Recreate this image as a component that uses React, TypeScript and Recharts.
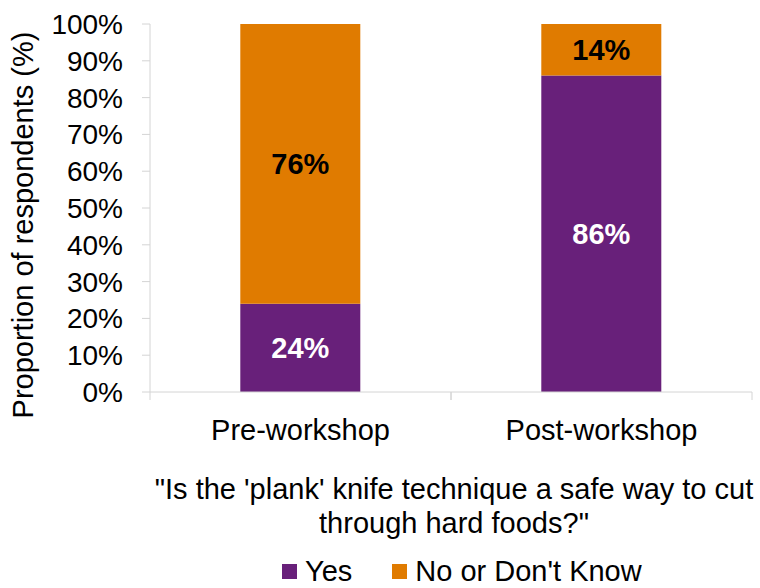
import { BarChart, Bar, XAxis, YAxis, Legend, LabelList } from "recharts";

const categories = ["Pre-workshop", "Post-workshop"];
const yesValues = [24, 86];
const noValues = [76, 14];
const yTicks = [0, 10, 20, 30, 40, 50, 60, 70, 80, 90, 100];

const PURPLE = "#68207A";
const ORANGE = "#E07B00";
const AXIS = "#d4d4d4";
const FONT = "'Liberation Sans', Arial, sans-serif";

const data = categories.map((name, i) => ({ name, yes: yesValues[i], no: noValues[i] }));

// eslint-disable-next-line @typescript-eslint/no-explicit-any
function CategoryTick(props: any) {
  const { x, y, payload } = props;
  const half = payload?.offset ?? 150.5;
  return (
    <g>
      <line x1={x - half} x2={x - half} y1={y} y2={y + 8} stroke={AXIS} />
      <line x1={x + half} x2={x + half} y1={y} y2={y + 8} stroke={AXIS} />
      <text x={x} y={y + 48} textAnchor="middle" fontSize={29} fill="#000" fontFamily={FONT}>
        {payload.value}
      </text>
    </g>
  );
}

// eslint-disable-next-line @typescript-eslint/no-explicit-any
function TitleLabel(props: any) {
  const vb = props.viewBox || { x: 150, y: 392, width: 602 };
  const cx = vb.x + vb.width / 2 + 3;
  return (
    <g fontFamily={FONT} fontSize={29} fill="#000" textAnchor="middle">
      <text x={cx} y={vb.y + 107}>"Is the 'plank' knife technique a safe way to cut</text>
      <text x={cx} y={vb.y + 141}>through hard foods?"</text>
    </g>
  );
}

function YTitle() {
  return (
    <text
      transform="translate(33,225) rotate(-90)"
      textAnchor="middle"
      fontFamily={FONT}
      fontSize={29}
      fill="#000"
    >
      Proportion of respondents (%)
    </text>
  );
}

function LegendBox() {
  const items = [
    { label: "Yes", color: PURPLE },
    { label: "No or Don't Know", color: ORANGE },
  ];
  return (
    <div
      style={{
        height: 40,
        width: 760,
        boxSizing: "border-box",
        paddingTop: 6,
        paddingLeft: 282,
        display: "flex",
        alignItems: "center",
        fontFamily: FONT,
        fontSize: 29,
        color: "#000",
      }}
    >
      {items.map((it, i) => (
        <div key={it.label} style={{ display: "flex", alignItems: "center", marginLeft: i ? 40 : 0 }}>
          <span style={{ width: 15, height: 15, background: it.color, marginRight: 8, display: "inline-block" }} />
          <span style={{ lineHeight: "22px" }}>{it.label}</span>
        </div>
      ))}
    </div>
  );
}

export default function App() {
  return (
    <div style={{ position: "absolute", left: 0, top: 0, background: "#fff" }}>
      <BarChart
        width={760}
        height={588}
        data={data}
        margin={{ top: 24, right: 8, bottom: 0, left: 0 }}
        barCategoryGap="30%"
      >
        <XAxis
          dataKey="name"
          height={156}
          tickSize={0}
          tickMargin={0}
          tickLine={false}
          axisLine={{ stroke: AXIS }}
          tick={<CategoryTick />}
          label={<TitleLabel />}
          interval={0}
        />
        <YAxis
          width={150}
          domain={[0, 100]}
          ticks={yTicks}
          interval={0}
          tickSize={8}
          tickMargin={19}
          tickLine={{ stroke: AXIS }}
          axisLine={{ stroke: AXIS }}
          tick={{ fontSize: 28, fill: "#000", fontFamily: FONT }}
          tickFormatter={(v: number) => `${v}%`}
          label={<YTitle />}
        />
        <Legend verticalAlign="bottom" wrapperStyle={{ left: 0, width: 760 }} content={<LegendBox />} />
        <Bar dataKey="yes" name="Yes" stackId="a" fill={PURPLE} isAnimationActive={false}>
          <LabelList
            dataKey="yes"
            position="center"
            formatter={(v: number) => `${v}%`}
            fill="#fff"
            fontSize={29}
            fontWeight="bold"
            fontFamily={FONT}
          />
        </Bar>
        <Bar dataKey="no" name="No or Don't Know" stackId="a" fill={ORANGE} isAnimationActive={false}>
          <LabelList
            dataKey="no"
            position="center"
            formatter={(v: number) => `${v}%`}
            fill="#000"
            fontSize={29}
            fontWeight="bold"
            fontFamily={FONT}
          />
        </Bar>
      </BarChart>
    </div>
  );
}
